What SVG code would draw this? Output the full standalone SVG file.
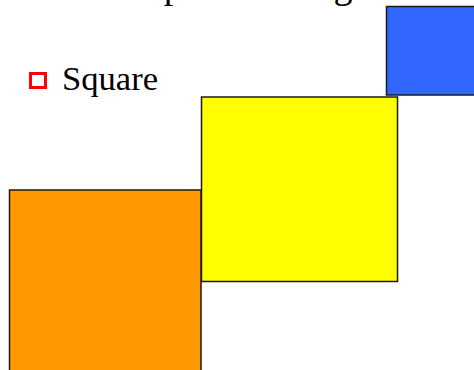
<svg xmlns="http://www.w3.org/2000/svg" width="474" height="370" viewBox="0 0 474 370">
<style>
.t{font-family:"Liberation Serif","DejaVu Serif",serif;fill:#000}
.sq{stroke:#1a1a1a;stroke-width:1.5}
</style>
<rect width="474" height="370" fill="#fff"/>
<text class="t" x="75" y="-2" font-size="38">Example Drawing</text>
<g id="bullet">
<rect x="30.5" y="73.5" width="15" height="14" fill="none" stroke="#ff0000" stroke-width="3"/>
<text class="t" x="62" y="90" font-size="33" textLength="96" lengthAdjust="spacingAndGlyphs">Square</text>
</g>
<g id="blue"><rect class="sq" x="386.5" y="6.5" width="100" height="88.5" fill="#3366ff"/></g>
<g id="yellow"><rect class="sq" x="201.5" y="97" width="196" height="184.5" fill="#ffff00"/></g>
<g id="orange"><rect class="sq" x="9.5" y="190" width="191.5" height="200" fill="#ff9900"/></g>
<g id="connectors"/>
</svg>
